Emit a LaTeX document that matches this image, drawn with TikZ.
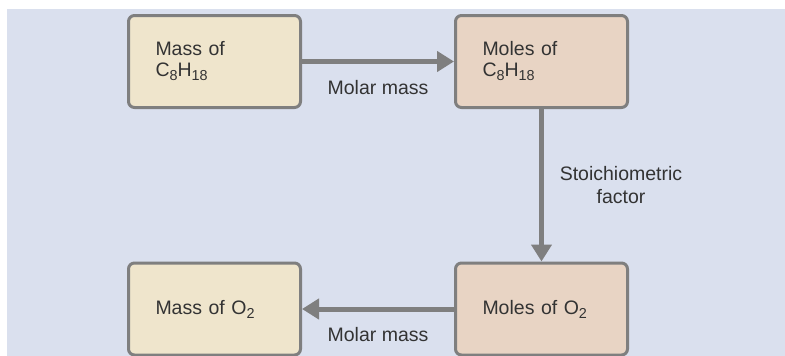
\documentclass[tikz,border=0pt]{standalone}
\usepackage{fontspec}
\setmainfont{Liberation Sans}
\usetikzlibrary{arrows.meta}
\definecolor{bgc}{HTML}{DAE0EE}
\definecolor{massc}{HTML}{EFE5CC}
\definecolor{molc}{HTML}{E8D4C4}
\definecolor{edgec}{HTML}{7F7F7F}
\definecolor{txtc}{HTML}{333333}
\newcommand{\chemsub}[1]{\raisebox{-4pt}{\fontsize{14.4}{14.4}\selectfont #1}}
\tikzset{
  boxbase/.style={draw=edgec, line width=3pt, rounded corners=6pt, rectangle,
    text width=118pt, inner xsep=27pt, minimum height=92pt, align=left,
    text=txtc, font=\fontsize{19.5}{21}\selectfont},
  massbox/.style={boxbase, fill=massc},
  molbox/.style={boxbase, fill=molc},
  lbl/.style={text=txtc, align=center, inner sep=0pt, font=\fontsize{19.5}{22.5}\selectfont},
  arr/.style={draw=edgec, line width=5pt, -{Triangle[length=17pt,width=20pt]}}
}
\begin{document}
\begin{tikzpicture}[x=1pt,y=-1pt]
\useasboundingbox (0,0) rectangle (785,356);
\fill[bgc] (7,9) rectangle (785,356);
\node[massbox] (m1) at (214.5,61.5) {Mass of\\C\chemsub{8}H\chemsub{18}};
\node[molbox] (n1) at (541.5,61.5) {Moles of\\C\chemsub{8}H\chemsub{18}};
\node[molbox] (n2) at (541.5,309) {Moles of O\chemsub{2}};
\node[massbox] (m2) at (214.5,309) {Mass of O\chemsub{2}};
\draw[arr] (m1.east) -- (n1.west);
\draw[arr] (n1.south) -- (n2.north);
\draw[arr] (n2.west) -- (m2.east);
\node[lbl] (l1) at (378,88) {Molar mass};
\node[lbl] (l2) at (621,185) {Stoichiometric\\factor};
\node[lbl] (l3) at (378,335) {Molar mass};
\end{tikzpicture}
\end{document}
